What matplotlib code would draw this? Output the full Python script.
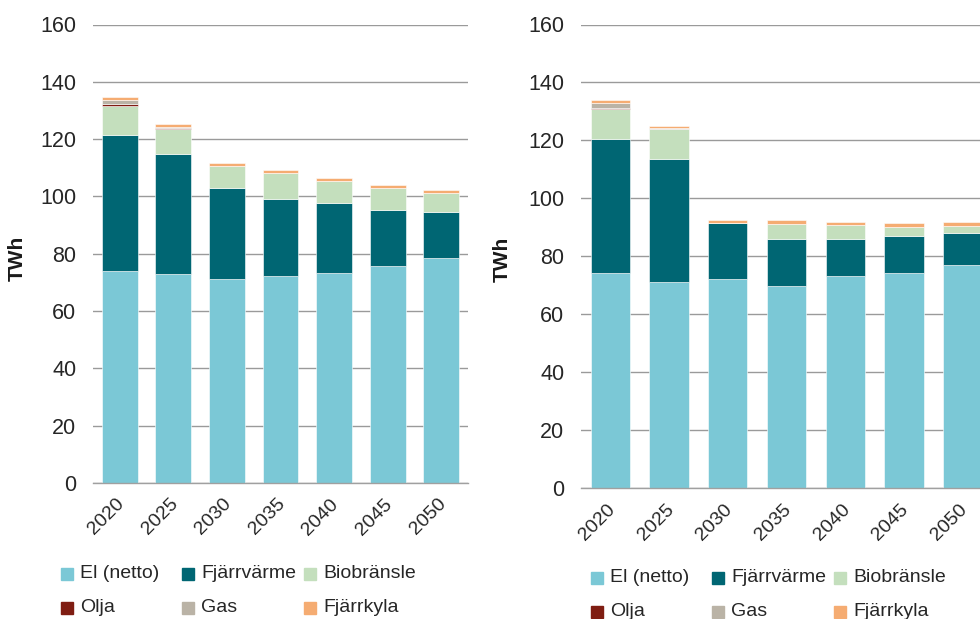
import matplotlib.pyplot as plt
import matplotlib.patches as mpatches
import matplotlib.transforms as mtransforms
import numpy as np

plt.rcParams['font.family'] = ['Liberation Sans', 'DejaVu Sans']

years = ['2020', '2025', '2030', '2035', '2040', '2045', '2050']
series = ['El (netto)', 'Fjärrvärme', 'Biobränsle', 'Olja', 'Gas', 'Fjärrkyla']
colors = ['#7BC8D6', '#006673', '#C4DFBD', '#7F1D12', '#BAB3A6', '#F5AC72']

# vänster scenario
el_a = [74.1, 73.0, 71.2, 72.2, 73.2, 75.6, 78.4]
fjv_a = [47.3, 41.9, 31.6, 27.0, 24.4, 19.7, 16.1]
bio_a = [10.2, 8.7, 7.8, 9.1, 7.9, 7.7, 6.8]
olja_a = [0.6, 0.3, 0, 0, 0, 0, 0]
gas_a = [1.6, 0.2, 0, 0, 0, 0, 0]
fjk_a = [1.0, 1.2, 0.9, 0.9, 1.0, 1.0, 1.1]

# höger scenario
el_b = [74.3, 71.0, 72.2, 69.7, 73.1, 74.2, 77.0]
fjv_b = [46.1, 42.6, 19.3, 16.4, 13.0, 12.7, 11.1]
bio_b = [10.4, 10.2, 0.0, 5.1, 4.7, 3.3, 2.5]
olja_b = [0.5, 0.3, 0, 0, 0, 0, 0]
gas_b = [1.6, 0.1, 0, 0, 0, 0, 0]
fjk_b = [0.9, 0.9, 1.1, 1.3, 1.0, 1.2, 1.2]

fig = plt.figure(figsize=(9.8, 6.19), dpi=100)
ax1 = fig.add_axes([93 / 980, 1 - 483 / 619, 375 / 980, 458.5 / 619])
ax2 = fig.add_axes([581 / 980, 1 - 488.3 / 619, 411 / 980, 463.8 / 619])


def draw(ax, data, labelx, labely):
    x = np.arange(len(years))
    bottom = np.zeros(len(years))
    for vals, c in zip(data, colors):
        vals = np.array(vals)
        ax.bar(x, vals, 0.667, bottom=bottom, color=c, edgecolor='white', linewidth=0.4, zorder=3)
        bottom += vals
    ax.set_xlim(-0.5, 6.5)
    ax.set_ylim(0, 160)
    ax.set_yticks(range(0, 161, 20))
    ax.yaxis.grid(True, color='#9A9A9A', linewidth=1.0, zorder=0)
    for s in ['top', 'right', 'left']:
        ax.spines[s].set_visible(False)
    ax.spines['bottom'].set_color('#A0A0A0')
    ax.spines['bottom'].set_linewidth(1.0)
    ax.spines['bottom'].set_zorder(4)
    ax.tick_params(axis='y', length=0, pad=12, labelsize=15.5, labelcolor='#262626')
    ax.tick_params(axis='x', length=0, pad=9, labelsize=14, labelcolor='#262626')
    ax.set_xticks(x)
    ax.set_xticklabels(years, rotation=45, ha='right', va='top', rotation_mode='anchor')
    shift = mtransforms.ScaledTranslation(-4 / 100, 0, fig.dpi_scale_trans)
    for lbl in ax.get_xticklabels():
        lbl.set_transform(lbl.get_transform() + shift)
    ax.set_ylabel('TWh', fontsize=15, fontweight='bold', color='#1a1a1a')
    ax.yaxis.set_label_coords(labelx, labely)


draw(ax1, [el_a, fjv_a, bio_a, olja_a, gas_a, fjk_a], -0.176, 0.489)
draw(ax2, [el_b, fjv_b, bio_b, olja_b, gas_b, fjk_b], -0.168, 0.494)


def legend(x0, y0):
    colx = [0, 121, 243]
    for i, (name, c) in enumerate(zip(series, colors)):
        px = x0 + colx[i % 3]
        py = y0 + 34 * (i // 3)
        fig.patches.append(mpatches.Rectangle((px / 980, 1 - (py + 6) / 619), 12 / 980, 12 / 619,
                                              transform=fig.transFigure, color=c))
        fig.text((px + 19) / 980, 1 - py / 619, name, fontsize=14, color='#262626',
                 ha='left', va='center')


legend(61, 574)
legend(591, 578)

fig.savefig('out.png', dpi=100)
